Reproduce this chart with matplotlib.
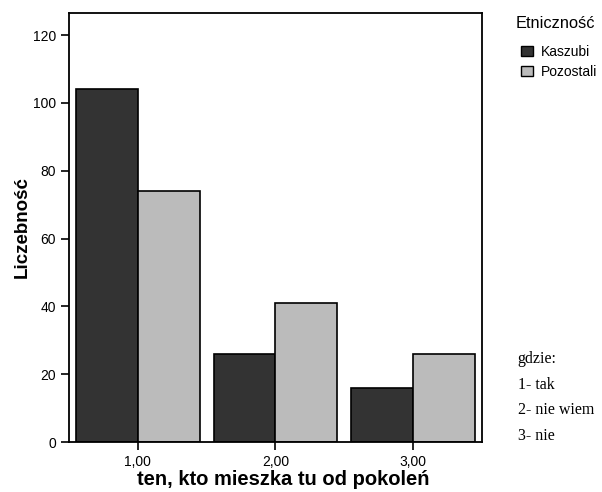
import numpy as np
import matplotlib
matplotlib.use('Agg')
import matplotlib.pyplot as plt
from matplotlib.patches import Patch

# dane
kategorie = ['1,00', '2,00', '3,00']
kaszubi = [104, 26, 16]
pozostali = [74, 41, 26]
y_ticks = [0, 20, 40, 60, 80, 100, 120]

plt.rcParams['font.family'] = ['Liberation Sans', 'DejaVu Sans']

fig = plt.figure(figsize=(6.02, 4.92), dpi=100)
ax = fig.add_axes([0.1146, 0.1016, 0.686, 0.872])

x = np.arange(1, len(kategorie) + 1)
w = 0.45
ax.bar(x - w/2, kaszubi, w, color='#333333', edgecolor='black', linewidth=1.2)
ax.bar(x + w/2, pozostali, w, color='#bbbbbb', edgecolor='black', linewidth=1.2)

ax.set_xlim(0.5, 3.5)
ax.set_ylim(0, 126.5)
ax.set_xticks(x)
ax.set_xticklabels(kategorie, fontsize=10)
ax.set_yticks(y_ticks)
ax.set_yticklabels([str(v) for v in y_ticks], fontsize=10)
ax.tick_params(direction='out', length=6, width=1.2, color='black')
for s in ax.spines.values():
    s.set_linewidth(1.3)

ax.set_xlabel('ten, kto mieszka tu od pokoleń', fontsize=14.5, fontweight='bold')
ax.xaxis.set_label_coords(0.52, -0.065)
ax.set_ylabel('Liczebność', fontsize=13.5, fontweight='bold', labelpad=1)

# legenda
fig.text(0.857, 0.953, 'Etniczność', fontsize=11.8, va='center')
uchwyty = [Patch(facecolor='#333333', edgecolor='black', label='Kaszubi'),
           Patch(facecolor='#bbbbbb', edgecolor='black', label='Pozostali')]
leg = fig.legend(handles=uchwyty, loc='upper left',
                 bbox_to_anchor=(0.854, 0.923), frameon=False, fontsize=10,
                 handlelength=0.85, handleheight=0.75,
                 handletextpad=0.55, labelspacing=0.45, borderpad=0)

# objaśnienia
opis = ['gdzie:', '1- tak', '2- nie wiem', '3- nie']
for i, t in enumerate(opis):
    fig.text(0.860, 0.2703 - i*0.0522, t, fontsize=11.5, family='Liberation Serif', va='center')

fig.savefig('out.png', dpi=100)
